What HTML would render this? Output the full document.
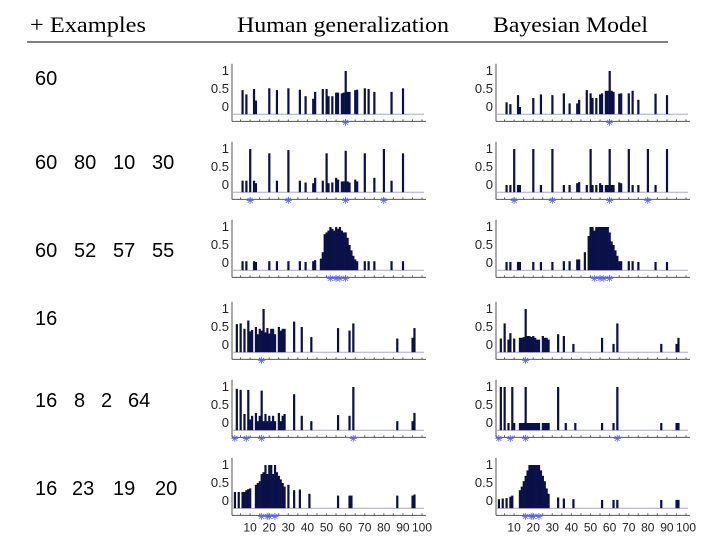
<!DOCTYPE html>
<html><head><meta charset="utf-8"><style>
body{margin:0;background:#fff;width:720px;height:540px;overflow:hidden}
svg text{font-family:"Liberation Sans",sans-serif}
</style></head><body>
<svg id="fig" width="720" height="540">
<text x="30" y="32" textLength="116" lengthAdjust="spacingAndGlyphs" style="font-family:'Liberation Serif',serif" font-size="22">+ Examples</text>
<text x="237" y="32" textLength="212" lengthAdjust="spacingAndGlyphs" style="font-family:'Liberation Serif',serif" font-size="22">Human generalization</text>
<text x="493" y="32" textLength="155" lengthAdjust="spacingAndGlyphs" style="font-family:'Liberation Serif',serif" font-size="22">Bayesian Model</text>
<line x1="27" y1="42" x2="668" y2="42" stroke="#000" stroke-width="1"/>
<g id="plots"></g>
</svg>
<script>
const examples=[[60],[60,80,10,30],[60,52,57,55],[16],[16,8,2,64],[16,23,19,20]];
const humanNums=[
[6,8,12,13,20,24,30,36,39,43,44,48,50,51,53,55,56,58,59,60,61,62,65,66,70,72,75,84,90],
[6,8,10,12,13,20,24,30,36,39,43,44,48,50,51,53,55,56,58,59,60,61,62,65,66,70,75,80,84,90],
[6,8,12,13,20,24,30,36,39,43,44,47,48,49,50,51,52,53,54,55,56,57,58,59,60,61,62,63,64,65,66,70,72,75,84,90],
[3,5,7,9,10,11,13,14,15,16,17,18,19,20,21,22,23,25,26,27,28,33,37,42,56,62,64,87,95,96],
[3,5,7,9,10,11,13,14,15,16,17,18,19,20,21,22,23,25,26,27,28,33,37,42,56,62,64,87,95,96],
[2,4,6,7,8,9,10,13,14,15,16,17,18,19,20,21,22,23,24,25,26,27,28,30,33,36,41,56,62,63,87,95,96]];
const humanVals=[
[.47,.35,.5,.18,.52,.47,.52,.48,.3,.23,.42,.5,.5,.3,.3,.4,.4,.38,.4,1,.42,.42,.47,.48,.52,.5,.42,.42,.52],
[.12,.12,1,.12,.05,.88,.12,.97,.12,.07,.05,.2,.12,.88,.05,.07,.2,.15,.1,.1,.95,.1,.07,.15,.1,.88,.2,1,.12,.88],
[.05,.05,.05,.03,.05,.05,.05,.05,.03,.05,.08,.12,.3,.8,.85,.9,1,.95,.9,1,.95,1,.9,.85,.85,.7,.5,.35,.2,.1,.05,.05,.05,.05,.05,.05],
[.58,.6,.45,.68,.38,.42,.5,.3,.45,.4,1,.35,.47,.32,.45,.45,.3,.5,.4,.45,.45,.65,.5,.22,.47,.4,.6,.18,.2,.47],
[.95,.92,.25,.92,.1,.2,.28,.05,.2,.9,.05,.25,.05,.2,.05,.2,.05,.28,.05,.2,.25,.8,.2,.05,.22,.2,1,.05,.05,.28],
[.25,.25,.25,.25,.3,.33,.35,.45,.5,.55,.75,.8,1,.75,1,1,.75,1,.8,.7,.6,.5,.4,.45,.3,.32,.2,.15,.15,.15,.15,.15,.18]];
const modelNums=[
[6,8,12,13,20,24,30,36,39,43,44,48,50,51,53,55,56,58,59,60,61,62,65,66,70,72,75,84,90],
[6,8,10,12,13,20,24,30,36,39,43,44,48,50,51,53,55,56,58,59,60,61,62,65,66,70,72,75,80,84,90],
[6,8,12,13,20,24,30,36,39,43,44,47,49,50,51,52,53,54,55,56,57,58,59,60,61,62,63,64,65,66,70,72,75,84,90],
[3,5,7,8,10,13,14,15,16,17,18,19,20,21,22,23,25,26,27,28,33,36,41,56,62,64,87,95,96],
[3,5,7,9,10,13,14,15,16,17,18,19,20,21,22,23,25,26,27,28,33,37,42,56,62,64,87,95,96],
[2,4,6,8,9,13,14,15,16,17,18,19,20,21,22,23,24,25,26,27,28,33,36,41,56,62,64,87,95,96]];
const modelVals=[
[.13,.08,.33,0,.25,.35,.33,.38,.1,.1,.2,.47,.38,.25,.25,.35,.38,.45,.45,1,.45,.42,.37,.38,.38,.45,.2,.37,.33],
[0,0,1,0,0,1,0,1,0,0,.05,.08,0,1,0,0,.05,0,0,0,1,0,0,.07,.05,1,0,0,1,0,1],
[.03,.03,.03,.03,.03,.03,.03,.05,.05,.1,.1,.3,.75,1,1,.9,1,1,1,1,1,1,1,.85,.6,.5,.35,.2,.05,.05,.05,.05,.03,.03,.03],
[.18,.6,.15,.33,.18,.2,.2,.22,1,.25,.25,.22,.25,.2,.15,.15,.25,.2,.2,.15,.3,.25,.03,.2,.03,.6,.03,.03,.2],
[1,1,0,1,0,0,0,0,1,0,0,0,0,0,0,0,0,0,0,0,1,0,0,0,0,1,0,0,0],
[.05,.07,.08,.12,.15,.3,.4,.55,.7,.85,1,1,1,1,1,1,.85,.7,.55,.35,.2,.1,.07,.05,.03,.03,.03,.03,.03,.03]];
const labelX=[[35],[35,74,113,152],[35,74,113,152],[35],[35,74,101,128],[35,72,113,155]];
const labelY=[85,169,257,325,407,495];
const zeroY=[107,185,263,345,423,501];
const xTicks=[10,20,30,40,50,60,70,80,90,100];
const yTicks=[1,0.5,0];
const NS="http://www.w3.org/2000/svg";
const root=document.getElementById('plots');
function mk(tag,attrs,parent){const e=document.createElementNS(NS,tag);for(const k in attrs)e.setAttribute(k,attrs[k]);(parent||root).appendChild(e);return e;}
const UNIT=36, SL=1.91;
function panel(r,x0,nums,vals,which){
  const z=zeroY[r];
  const yv=v=>z-v*UNIT;
  const xv=n=>x0+n*SL;
  const g=mk('g',{});
  
  
  const ya=mk('line',{x1:x0+1,y1:yv(1.2),x2:x0+1,y2:yv(-0.4),stroke:'#555','stroke-width':1},g);
  
  
  yTicks.forEach(t=>{
    const tx=mk('text',{x:x0-2,y:yv(t)+4,'text-anchor':'end','font-size':13,fill:'#222'},g);
    tx.textContent=t;
    
    
  });
  const bl=mk('line',{x1:x0+1,y1:yv(-0.2),x2:xv(100)+2,y2:yv(-0.2),stroke:'#a8acc0','stroke-width':1},g);
  
  
  nums.forEach((n,i)=>{
    const v=vals[i];
    const b=mk('rect',{x:xv(n)-1,y:yv(v),width:SL+0.3,height:yv(-0.2)-yv(v),fill:'#0c1048'},g);
    
    
  });
  const xa=mk('line',{x1:x0+1,y1:yv(-0.4),x2:xv(100)+4,y2:yv(-0.4),stroke:'#555','stroke-width':1},g);
  
  
  for(let t=5;t<=100;t+=5){mk('line',{x1:xv(t),y1:yv(-0.4),x2:xv(t),y2:yv(-0.4)-2,stroke:'#555','stroke-width':1},g);}
  if(r===5){xTicks.forEach(t=>{
    const tx=mk('text',{x:xv(t),y:yv(-0.4)+16,'text-anchor':'middle','font-size':12,fill:'#222'},g);
    tx.textContent=t;
    
    
  });}
  examples[r].forEach(e=>{
    const cx=xv(e), cy=yv(-0.4)+1;
    const s=mk('g',{stroke:'#5a66d0','stroke-width':0.8},g);
    
    
    mk('line',{x1:cx-3.5,y1:cy,x2:cx+3.5,y2:cy},s);
    mk('line',{x1:cx-2.5,y1:cy-2.5,x2:cx+2.5,y2:cy+2.5},s);
    mk('line',{x1:cx-2.5,y1:cy+2.5,x2:cx+2.5,y2:cy-2.5},s);
    mk('line',{x1:cx,y1:cy-3.5,x2:cx,y2:cy+3.5},s);
  });
}
for(let r=0;r<6;r++){
  examples[r].forEach((e,j)=>{
    const t=mk('text',{x:labelX[r][j],y:labelY[r],'font-size':20,fill:'#000'});
    t.textContent=e;
    
    
  });
  panel(r,231,humanNums[r],humanVals[r],'human');
  panel(r,495,modelNums[r],modelVals[r],'model');
}
</script>
</body></html>
